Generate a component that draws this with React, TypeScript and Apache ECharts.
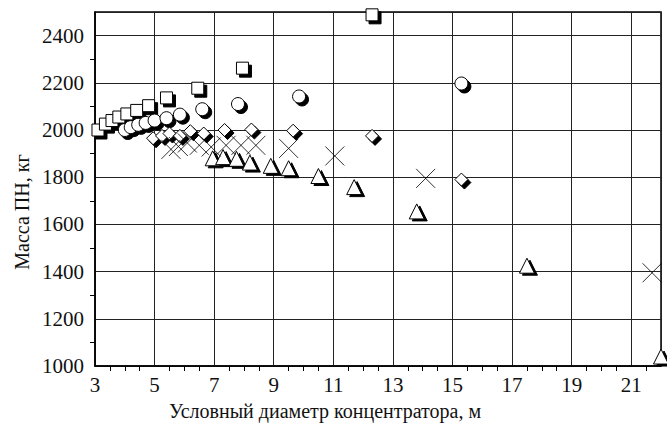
import React, { useEffect, useRef } from "react";
import * as echarts from "echarts";

const xTitle = "Условный диаметр концентратора, м";
const yTitle = "Масса ПН, кг";

const squares: [number, number][] = [
  [3.1, 2000], [3.35, 2025], [3.57, 2040], [3.8, 2055], [4.07, 2068], [4.4, 2083],
  [4.8, 2103], [5.4, 2136], [6.45, 2177], [7.95, 2262], [12.3, 2488],
];
const circles: [number, number][] = [
  [4.0, 2000], [4.2, 2012], [4.45, 2022], [4.7, 2030], [5.0, 2040], [5.4, 2050],
  [5.85, 2065], [6.6, 2088], [7.8, 2110], [9.85, 2142], [15.3, 2197],
];
const diamonds: [number, number][] = [
  [4.95, 1965], [5.25, 1975], [5.5, 1985], [5.85, 1975], [6.2, 1995], [6.65, 1985],
  [7.35, 2000], [8.25, 2002], [9.65, 1997], [12.3, 1975], [15.3, 1790],
];
const triangles: [number, number][] = [
  [6.95, 1880], [7.3, 1885], [7.75, 1878], [8.2, 1862], [8.9, 1848], [9.5, 1838],
  [10.5, 1805], [11.7, 1758], [13.8, 1655], [17.5, 1425], [22.0, 1040],
];
const crosses: [number, number][] = [
  [5.55, 1918], [5.8, 1930], [6.1, 1945], [6.5, 1935], [6.9, 1928], [7.4, 1935],
  [7.9, 1935], [8.4, 1935], [9.5, 1922], [11.05, 1890], [14.1, 1795], [21.7, 1395],
];

const FONT = "Liberation Serif";

function pair(name: string, data: [number, number][], symbol: string, size: number, off: [number, number]) {
  return [
    {
      name: name + "-shadow",
      type: "scatter",
      data,
      symbol,
      symbolSize: size,
      symbolOffset: off,
      itemStyle: { color: "#000", borderColor: "#000", borderWidth: 1, opacity: 1 },
      silent: true,
      clip: false,
    },
    {
      name,
      type: "scatter",
      data,
      symbol,
      symbolSize: size,
      itemStyle: { color: "#fff", borderColor: "#000", borderWidth: 1, opacity: 1 },
      clip: false,
    },
  ];
}

export default function App() {
  const ref = useRef<HTMLDivElement>(null);
  useEffect(() => {
    if (!ref.current) return;
    const chart = echarts.init(ref.current, null, { renderer: "svg" });
    const axisText = { fontFamily: FONT, fontSize: 21, color: "#111" };
    chart.setOption({
      animation: false,
      backgroundColor: "#fff",
      grid: {
        left: 95, right: 6, top: 12, bottom: 61,
        show: true, borderColor: "#000", borderWidth: 1.5,
      },
      xAxis: {
        type: "value", min: 3, max: 22, interval: 2,
        axisLine: { show: true, lineStyle: { color: "#000", width: 1.5 } },
        axisTick: { show: false },
        minorTick: { show: true, splitNumber: 4, length: 5, lineStyle: { color: "#000", width: 1 } },
        splitLine: { show: true, lineStyle: { color: "#222", width: 1 } },
        axisLabel: { ...axisText, margin: 8, showMaxLabel: false,
          formatter: (v: number) => (v > 21.5 ? "" : String(v)) },
      },
      yAxis: {
        type: "value", min: 1000, max: 2500, interval: 200,
        axisLine: { show: true, lineStyle: { color: "#000", width: 1.5 } },
        axisTick: { show: false },
        minorTick: { show: true, splitNumber: 2, length: 5, lineStyle: { color: "#000", width: 1 } },
        splitLine: { show: true, lineStyle: { color: "#222", width: 1 } },
        axisLabel: { ...axisText, margin: 11, showMaxLabel: false,
          formatter: (v: number) => (v > 2450 ? "" : String(v)) },
      },
      graphic: [
        {
          type: "text", x: 325, y: 411,
          style: { text: xTitle, font: `20px "${FONT}"`, fill: "#111", textAlign: "center", textVerticalAlign: "middle" },
        },
        {
          type: "text", x: 22, y: 212, rotation: Math.PI / 2,
          style: { text: yTitle, font: `20px "${FONT}"`, fill: "#111", textAlign: "center", textVerticalAlign: "middle" },
        },
      ],
      series: [
        ...pair("squares", squares, "rect", 12, [3, 3]),
        ...pair("circles", circles, "circle", 13, [3, 3]),
        ...pair("diamonds", diamonds, "diamond", 13, [3, 3]),
        ...pair("triangles", triangles, "triangle", 15, [3, 2]),
        {
          name: "crosses",
          type: "scatter",
          data: crosses,
          symbol: "path://M0,0L20,20M20,0L0,20",
          symbolSize: 19,
          itemStyle: { color: "transparent", borderColor: "#000", borderWidth: 1 },
          clip: false,
        },
      ],
    });
    return () => chart.dispose();
  }, []);
  return <div ref={ref} style={{ width: 667, height: 427, position: "fixed", left: 0, top: 0 }} />;
}
